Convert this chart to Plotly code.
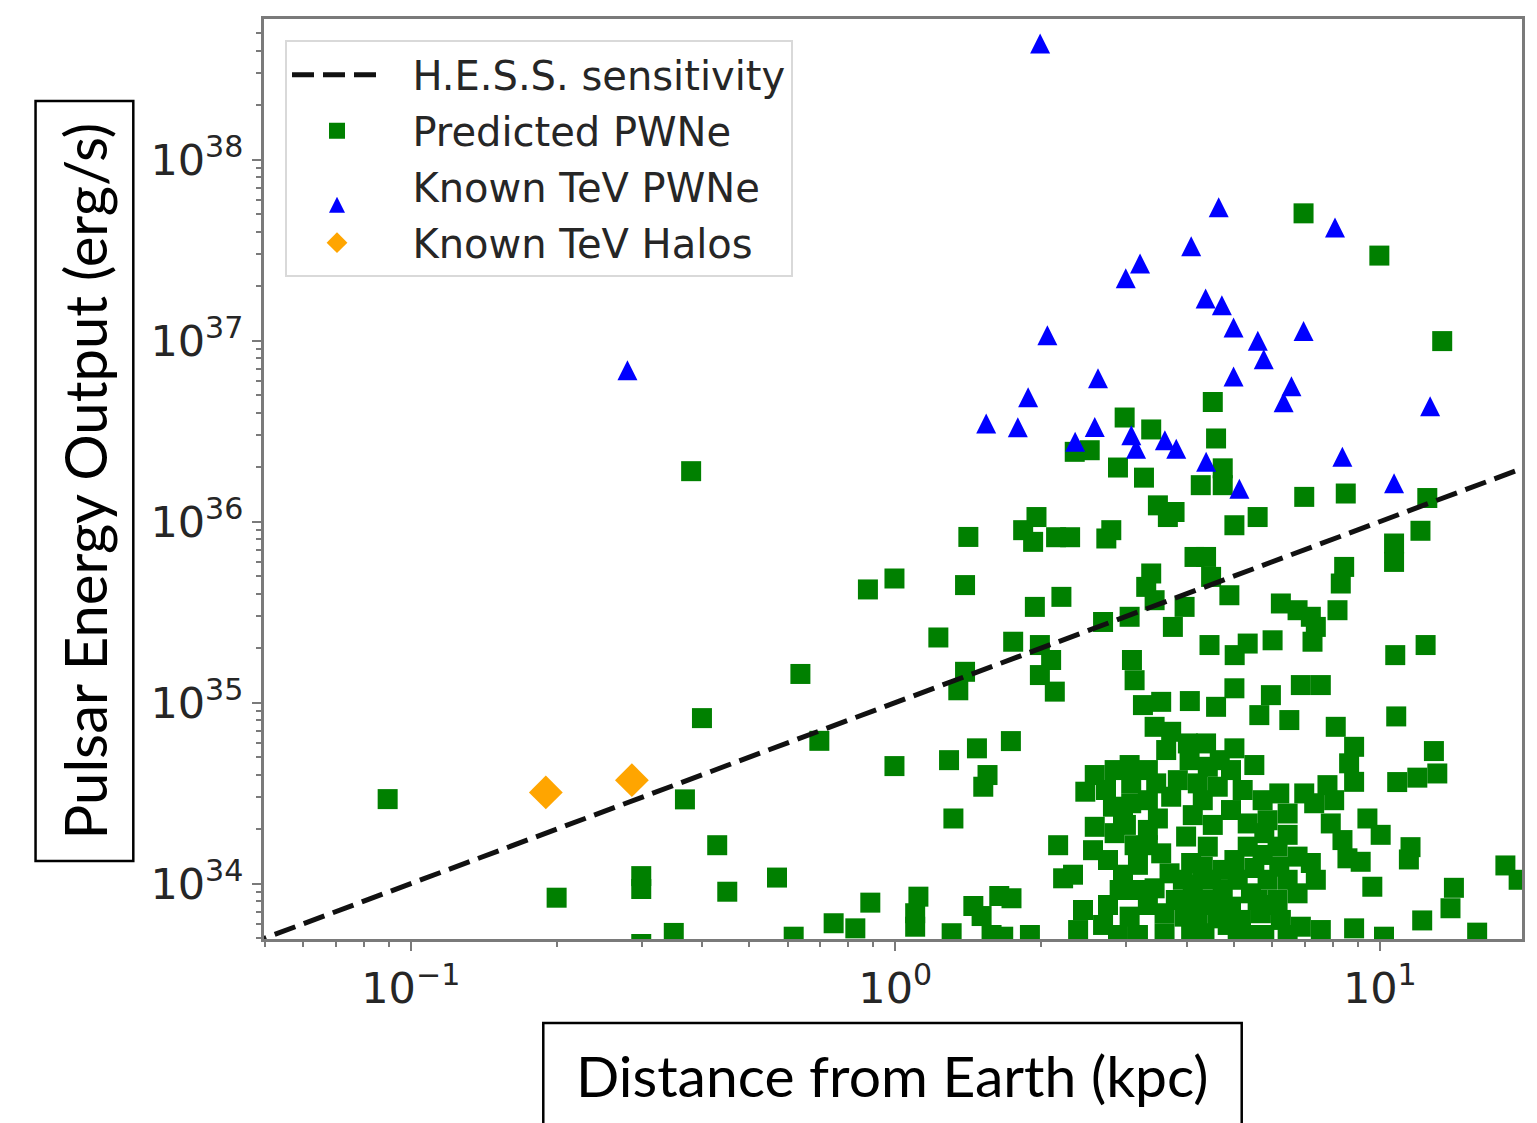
import plotly.graph_objects as go

# ---------------------------------------------------------------------------
# Data: distance from Earth (kpc) and pulsar spin-down power (erg/s)
# ---------------------------------------------------------------------------

# H.E.S.S. sensitivity limit (straight line in log-log space)
sens_dist = [0.01, 100.0]
sens_edot = [1.0e33, 1.0e37]

# Known TeV halos (Geminga, Monogem)
halo_dist = [0.19, 0.286]
halo_edot = [3.19e34, 3.73e34]

# Known TeV pulsar wind nebulae
tev_pwn_dist = [
    0.280, 1.99, 4.65, 8.08, 4.08, 3.20, 2.99, 4.37, 4.72, 2.06,
    4.99, 5.60, 6.96, 5.76, 2.62, 4.99, 6.57, 6.33, 1.88, 1.79,
    1.54, 2.35, 2.58, 3.07, 3.14, 3.60, 3.80, 4.38, 5.13, 8.37,
    10.7, 12.7,
]
tev_pwn_edot = [
    6.86e36, 4.38e38, 5.45e37, 4.22e37, 3.32e37, 2.67e37, 2.21e37, 1.71e37, 1.57e37, 1.07e37,
    1.18e37, 1.00e37, 1.13e37, 7.88e36, 6.19e36, 6.33e36, 5.59e36, 4.56e36, 4.86e36, 3.32e36,
    3.49e36, 2.76e36, 3.33e36, 3.00e36, 2.53e36, 2.82e36, 2.53e36, 2.14e36, 1.52e36, 2.28e36,
    1.63e36, 4.34e36,
]

# Predicted pulsar wind nebulae
pred_dist = [
    0.0896, 0.368, 0.399, 0.200, 0.299, 0.299, 0.349, 0.299, 0.379,
    1.415, 0.996, 0.878, 1.393, 1.227, 0.637, 1.393, 1.349, 0.697, 0.996,
    1.291, 1.474, 1.550, 1.519, 1.318, 0.429, 0.570, 0.450, 0.888, 1.116,
    1.099, 1.099, 0.746, 0.827, 0.617, 1.449, 1.507, 1.307, 1.580, 1.639,
    2.974, 3.374, 2.346, 2.519, 2.881, 3.260, 4.270, 3.483, 3.770, 3.652,
    1.956, 1.836, 1.925, 2.147, 2.295, 2.791, 2.726, 4.145, 3.374, 3.295,
    3.429, 2.202, 1.941, 3.954, 3.740, 2.684, 3.045, 1.751, 1.988, 2.097,
    3.079,
    4.521, 4.592, 4.740, 4.740, 6.982, 8.505, 5.010, 5.595, 10.70, 10.70,
    4.379, 4.485, 4.892, 8.441, 8.306, 6.248, 6.764, 7.204, 7.377, 7.262,
    8.177, 4.451, 5.337, 6.007, 10.76, 5.017,
    13.45, 12.53, 12.13, 12.43, 12.93, 13.14, 11.95, 11.57, 11.48, 18.16,
    19.34, 14.22, 13.99, 12.23, 15.88, 10.81, 10.86,
    6.959, 9.977,
    1.988, 2.134, 3.118, 3.244, 3.538, 4.054, 3.429, 3.710, 3.623, 4.016,
    4.049, 1.732, 2.580, 2.467, 2.836, 3.045, 3.068, 2.813, 3.068, 3.455,
    3.829, 3.710, 3.483, 2.580, 2.836, 3.118, 3.538, 3.983, 2.168, 2.220,
    2.327, 1.737, 2.904, 3.168, 3.429, 3.681, 3.922, 4.079, 3.045, 3.595,
    3.954, 2.384, 1.896, 1.670, 3.595, 4.079, 3.168,
    6.870, 7.554, 5.010, 4.592, 5.959, 5.640, 6.504, 8.110, 8.849, 8.642,
    8.849, 4.379, 5.010, 5.508, 4.415, 4.930, 4.629, 4.210, 6.201, 6.982,
    7.797, 8.049, 7.320, 6.452, 4.930, 5.337, 5.775, 7.920, 9.426, 10.04,
    8.373, 8.573, 9.130, 9.649, 6.764, 7.204, 7.377, 6.764, 6.151, 6.201,
    5.866, 6.151, 5.337, 5.010, 5.508, 5.089, 5.420, 4.415, 4.311, 4.485,
    4.740, 4.346, 4.930, 4.629, 5.169, 5.683, 6.248, 6.870, 7.554, 8.849,
    4.346, 5.089, 5.775, 10.20,
    4.673, 5.211, 5.729, 4.521, 4.111, 5.729, 6.452, 4.740, 5.595, 6.452,
    4.521, 4.111, 5.337, 4.853, 6.452, 5.866, 4.311,
    3.321, 2.722, 3.321, 2.992, 3.321, 2.748, 3.168, 4.111, 2.748, 3.321,
    2.881, 2.440,
    2.951, 2.684, 3.793, 4.210, 3.321, 2.951, 6.007, 2.559,
]
pred_edot = [
    2.93e34, 2.92e34, 8.21e34, 8.36e33, 1.10e34, 9.34e33, 5.34e33, 4.64e33, 1.90e36,
    8.23e35, 4.85e35, 4.22e35, 4.46e35, 2.29e35, 1.44e35, 1.48e35, 1.17e35, 6.15e34, 4.46e34,
    4.81e34, 5.59e34, 3.98e34, 3.43e34, 2.29e34, 1.63e34, 1.08e34, 9.02e33, 7.85e33, 8.47e33,
    6.86e33, 5.78e33, 6.04e33, 5.66e33, 5.09e33, 7.52e33, 6.62e33, 5.32e33, 5.20e33, 8.54e33,
    3.76e36, 3.23e36, 2.43e36, 2.48e36, 1.99e36, 1.75e36, 1.59e36, 1.23e36, 1.13e36, 1.06e36,
    1.06e36, 8.97e35, 7.73e35, 8.20e35, 8.20e35, 8.97e35, 8.07e35, 6.38e35, 5.17e35, 4.36e35,
    3.68e35, 3.84e35, 3.38e35, 3.38e35, 2.62e35, 2.79e35, 2.98e35, 2.17e35, 2.08e35, 1.72e35,
    1.72e35,
    4.58e36, 2.88e36, 1.97e36, 1.59e36, 1.37e36, 1.43e36, 9.55e35, 1.06e36, 7.57e35, 5.99e35,
    6.38e35, 4.95e35, 3.92e35, 5.62e35, 4.55e35, 3.53e35, 3.24e35, 2.98e35, 2.62e35, 2.17e35,
    3.24e35, 2.08e35, 2.12e35, 2.21e35, 1.83e35, 1.83e35,
    9.94e36, 1.35e36, 8.90e35, 2.08e35, 5.40e34, 4.06e34, 3.85e34, 1.59e34, 1.36e34, 1.26e34,
    1.05e34, 9.48e33, 7.31e33, 6.26e33, 5.36e33, 8.39e34, 3.64e34,
    5.05e37, 2.95e37,
    1.42e35, 1.15e35, 1.33e35, 9.69e34, 1.01e35, 1.02e35, 7.35e34, 6.90e34, 5.47e34, 5.95e34,
    4.81e34, 6.13e34, 3.98e34, 3.22e34, 4.24e34, 4.52e34, 3.58e34, 2.66e34, 2.78e34, 3.58e34,
    3.73e34, 3.02e34, 2.29e34, 2.06e34, 1.90e34, 1.63e34, 1.47e34, 1.82e34, 1.63e34, 1.07e34,
    1.12e34, 8.30e33, 9.22e33, 9.22e33, 9.42e33, 1.14e34, 1.05e34, 1.30e34, 6.57e33, 6.86e33,
    6.57e33, 5.54e33, 5.20e33, 5.09e33, 5.32e33, 5.32e33, 5.20e33,
    1.25e35, 1.25e35, 1.20e35, 9.48e34, 1.10e35, 8.53e34, 8.01e34, 7.35e34, 5.70e34, 4.62e34,
    3.65e34, 5.95e34, 5.59e34, 4.52e34, 4.42e34, 4.24e34, 3.43e34, 3.58e34, 3.15e34, 3.15e34,
    3.50e34, 2.89e34, 2.78e34, 2.44e34, 2.55e34, 2.15e34, 1.90e34, 2.15e34, 2.29e34, 1.86e34,
    1.74e34, 1.38e34, 1.32e34, 9.61e33, 1.41e34, 1.30e34, 1.05e34, 8.84e33, 1.60e34, 1.24e34,
    1.05e34, 8.12e33, 1.60e34, 1.35e34, 1.22e34, 1.05e34, 8.84e33, 1.60e34, 1.24e34, 1.05e34,
    9.22e33, 8.12e33, 7.46e33, 6.43e33, 6.30e33, 6.86e33, 6.30e33, 5.78e33, 5.54e33, 5.66e33,
    5.32e33, 5.20e33, 5.20e33, 5.09e33,
    4.81e34, 3.29e34, 2.89e34, 2.11e34, 2.39e34, 1.44e34, 1.86e34, 1.19e34, 8.12e33, 1.05e34,
    7.62e33, 8.12e33, 5.20e33, 5.91e33, 5.20e33, 2.24e34, 2.89e34,
    4.24e34, 3.29e34, 2.89e34, 2.11e34, 1.98e34, 1.35e34, 1.27e34, 9.82e33, 7.62e33, 7.62e33,
    5.20e33, 7.15e33,
    1.12e34, 5.91e33, 8.12e33, 6.71e33, 1.63e34, 2.39e34, 7.62e33, 1.53e34,
]

# Axis ticks
x_tick_vals = [0.1, 1, 10]
x_tick_text = ["10<sup>\u22121</sup>", "10<sup>0</sup>", "10<sup>1</sup>"]
y_tick_vals = [1e34, 1e35, 1e36, 1e37, 1e38]
y_tick_text = ["10<sup>34</sup>", "10<sup>35</sup>", "10<sup>36</sup>",
               "10<sup>37</sup>", "10<sup>38</sup>"]

x_minor = [m * 10.0 ** e for e in range(-2, 2) for m in range(2, 10)]
y_minor = [m * 10.0 ** e for e in range(33, 39) for m in range(2, 10)]

# ---------------------------------------------------------------------------
# Figure
# ---------------------------------------------------------------------------
TICK_FONT = dict(family="DejaVu Sans", size=43, color="#262626")
SPINE = "#7a7a7a"
PAD = "\u00a0\u00a0"   # small gap between legend symbols and labels

fig = go.Figure()

fig.add_trace(go.Scatter(
    x=pred_dist, y=pred_edot, mode="markers", name=PAD + "Predicted PWNe",
    marker=dict(symbol="square", size=20, color="#008000"),
    legendrank=2, legendgroup="pred",
))
fig.add_trace(go.Scatter(
    x=sens_dist, y=sens_edot, mode="lines", name=PAD + "H.E.S.S. sensitivity",
    line=dict(color="#111111", width=5, dash="22px,9px"),
    legendrank=1, legendgroup="sens",
))
fig.add_trace(go.Scatter(
    x=tev_pwn_dist, y=tev_pwn_edot, mode="markers", name=PAD + "Known TeV PWNe",
    marker=dict(symbol="arrow-down", angle=180, standoff=10, size=20,
                color="#0000ff"),
    legendrank=3, legendgroup="pwn",
))
fig.add_trace(go.Scatter(
    x=halo_dist, y=halo_edot, mode="markers", name=PAD + "Known TeV Halos",
    marker=dict(symbol="diamond", size=26, color="#ffa500"),
    legendrank=4, legendgroup="halo",
))

axis_common = dict(
    type="log", showgrid=False, zeroline=False,
    showline=True, mirror=True, linecolor=SPINE, linewidth=3,
    ticks="outside", ticklen=9, tickwidth=2, tickcolor=SPINE,
    tickmode="array", tickfont=TICK_FONT,
)

fig.update_xaxes(
    **axis_common,
    range=[-1.3029, 1.2934],
    tickvals=x_tick_vals, ticktext=x_tick_text,
    minor=dict(tickmode="array", tickvals=x_minor, ticks="outside",
               ticklen=5, tickwidth=2, tickcolor=SPINE, showgrid=False),
)
fig.update_yaxes(
    **axis_common,
    range=[33.694, 38.777],
    tickvals=y_tick_vals, ticktext=y_tick_text,
    ticklabelstandoff=0,
    minor=dict(tickmode="array", tickvals=y_minor, ticks="outside",
               ticklen=5, tickwidth=2, tickcolor=SPINE, showgrid=False),
)

# Boxed axis titles
fig.add_shape(type="rect", xref="paper", yref="paper",
              x0=-0.1816, x1=-0.1039, y0=0.0848, y1=0.9109,
              line=dict(color="black", width=2.5), fillcolor="white")
fig.add_shape(type="rect", xref="paper", yref="paper",
              x0=0.2220, x1=0.7772, y0=-0.2050, y1=-0.0913,
              line=dict(color="black", width=2.5), fillcolor="white")

fig.add_annotation(text="Pulsar Energy Output (erg/s)", xref="paper", yref="paper",
                   x=-0.1427, y=0.4978, textangle=-90, showarrow=False,
                   xanchor="center", yanchor="middle",
                   font=dict(family="Lato", size=58, color="black"))
fig.add_annotation(text="Distance from Earth (kpc)", xref="paper", yref="paper",
                   x=0.4996, y=-0.1475, showarrow=False,
                   xanchor="center", yanchor="middle",
                   font=dict(family="Lato", size=57, color="black"))

fig.update_layout(
    width=1537, height=1123,
    margin=dict(l=264, r=12, t=19, b=184),
    paper_bgcolor="white", plot_bgcolor="white",
    showlegend=True,
    legend=dict(
        x=0.0167, y=0.977, xanchor="left", yanchor="top",
        bgcolor="rgba(255,255,255,0.85)", bordercolor="#d9d9d9", borderwidth=2,
        font=dict(family="DejaVu Sans", size=40, color="#262626"),
        itemwidth=90, traceorder="grouped", tracegroupgap=1,
    ),
)

fig.write_html("out.html")
